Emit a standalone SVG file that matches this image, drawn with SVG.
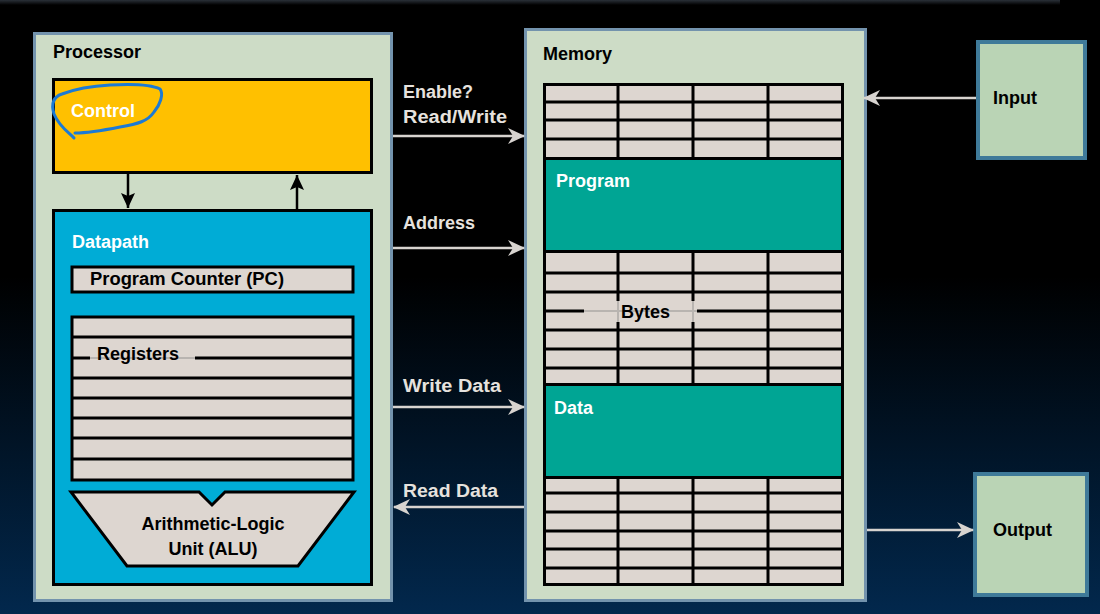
<svg xmlns="http://www.w3.org/2000/svg" width="1100" height="614" viewBox="0 0 1100 614">
<defs>
<linearGradient id="bg" x1="0" y1="0" x2="0" y2="1">
<stop offset="0" stop-color="#000000"/>
<stop offset="0.45" stop-color="#000000"/>
<stop offset="1" stop-color="#02284d"/>
</linearGradient>
<linearGradient id="topstrip" x1="0" y1="0" x2="0" y2="1">
<stop offset="0" stop-color="#2a3038"/>
<stop offset="1" stop-color="#000000"/>
</linearGradient>
<marker id="ah" markerUnits="userSpaceOnUse" markerWidth="18" markerHeight="16" refX="16" refY="8" orient="auto">
<path d="M0,0 L17,8 L0,16 L5,8 z" fill="#d8d4d0"/>
</marker>
<marker id="ahb" markerUnits="userSpaceOnUse" markerWidth="16" markerHeight="16" refX="15" refY="7" orient="auto">
<path d="M0,0 L15,7 L0,14 L3,7 z" fill="#000"/>
</marker>
<style>
.t{font-family:"Liberation Sans",Arial,sans-serif;font-weight:bold;font-size:18px}
.dk{fill:#000}
.wt{fill:#ffffff}
.lt{fill:#e6e2de}
.unit{fill:#cddcc6;stroke:#7393ad;stroke-width:3}
.io{fill:#bad4b5;stroke:#3f7a99;stroke-width:4}
.cell{fill:#ddd6d0}
.grid{stroke:#000;stroke-width:3;fill:none}
.conn{stroke:#d8d4d0;stroke-width:2.5;fill:none}
.connb{stroke:#000;stroke-width:2.5;fill:none}
</style>
</defs>
<rect x="0" y="0" width="1100" height="614" fill="url(#bg)"/>
<rect x="0" y="0" width="1060" height="5" fill="url(#topstrip)"/>

<g id="processor">
<rect class="unit" x="34.5" y="33.5" width="357" height="567"/>
<text class="t dk" x="53" y="58">Processor</text>
</g>

<g id="control">
<rect x="53.5" y="79.5" width="318" height="93" fill="#ffc000" stroke="#000" stroke-width="3"/>
<text class="t wt" x="71" y="117">Control</text>
<path d="M74,138 C70,133 60,128 54,114 C51,104 53,97 62,94 C75,89 92,86 110,85 C128,84 150,84 160,89 C164,94 160,105 154,112 C148,121 138,124 120,127 C105,130 90,133 75,133" fill="none" stroke="#1c7ad4" stroke-width="3" stroke-linecap="round"/>
</g>

<g id="datapath">
<rect x="53.5" y="210.5" width="318" height="374" fill="#00acd6" stroke="#000" stroke-width="3"/>
<text class="t wt" x="72" y="248">Datapath</text>
</g>

<g id="pc">
<rect x="72" y="267" width="281" height="25" fill="#ddd6d0" stroke="#000" stroke-width="3"/>
<text class="t dk" x="90" y="285" textLength="194" lengthAdjust="spacingAndGlyphs">Program Counter (PC)</text>
</g>

<g id="registers">
<rect x="72" y="317" width="281" height="163" fill="#ddd6d0" stroke="#000" stroke-width="3"/>
<g class="grid">
<line x1="72" y1="337" x2="353" y2="337"/>
<line x1="72" y1="358" x2="90" y2="358"/>
<line x1="195" y1="358" x2="353" y2="358"/>
<line x1="72" y1="378" x2="353" y2="378"/>
<line x1="72" y1="398" x2="353" y2="398"/>
<line x1="72" y1="418" x2="353" y2="418"/>
<line x1="72" y1="438" x2="353" y2="438"/>
<line x1="72" y1="459" x2="353" y2="459"/>
</g>
<line x1="90" y1="358" x2="195" y2="358" stroke="#b8b4b0" stroke-width="2"/>
<text class="t dk" x="97" y="360">Registers</text>
</g>

<g id="alu">
<path d="M71,492 L199,492 L212,505 L225,492 L354,492 L298,566 L127,566 Z" fill="#ddd6d0" stroke="#000" stroke-width="3" stroke-linejoin="miter"/>
<text class="t dk" x="213" y="530" text-anchor="middle">Arithmetic-Logic</text>
<text class="t dk" x="213" y="555" text-anchor="middle">Unit (ALU)</text>
</g>

<g id="memory">
<rect class="unit" x="525.5" y="29.5" width="340" height="571"/>
<text class="t dk" x="543" y="60">Memory</text>
</g>

<g id="bytes">
<rect class="cell" x="543" y="83" width="301" height="503"/>
<g class="grid">
<rect x="544.5" y="84.5" width="298" height="500"/>
<line x1="543" y1="102" x2="844" y2="102"/>
<line x1="543" y1="120" x2="844" y2="120"/>
<line x1="543" y1="139" x2="844" y2="139"/>
<line x1="618" y1="83" x2="618" y2="158"/>
<line x1="693" y1="83" x2="693" y2="158"/>
<line x1="768" y1="83" x2="768" y2="158"/>
<line x1="543" y1="273" x2="844" y2="273"/>
<line x1="543" y1="292" x2="844" y2="292"/>
<line x1="543" y1="311" x2="584" y2="311"/>
<line x1="697" y1="311" x2="844" y2="311"/>
<line x1="543" y1="330" x2="844" y2="330"/>
<line x1="543" y1="349" x2="844" y2="349"/>
<line x1="543" y1="368" x2="844" y2="368"/>
<line x1="618" y1="252" x2="618" y2="301"/>
<line x1="618" y1="322" x2="618" y2="384"/>
<line x1="693" y1="252" x2="693" y2="301"/>
<line x1="693" y1="322" x2="693" y2="384"/>
<line x1="768" y1="252" x2="768" y2="384"/>
<line x1="543" y1="493" x2="844" y2="493"/>
<line x1="543" y1="512" x2="844" y2="512"/>
<line x1="543" y1="531" x2="844" y2="531"/>
<line x1="543" y1="549" x2="844" y2="549"/>
<line x1="543" y1="568" x2="844" y2="568"/>
<line x1="618" y1="478" x2="618" y2="586"/>
<line x1="693" y1="478" x2="693" y2="586"/>
<line x1="768" y1="478" x2="768" y2="586"/>
</g>
<g stroke="#b8b4b0" stroke-width="2">
<line x1="584" y1="311" x2="697" y2="311"/>
<line x1="618" y1="301" x2="618" y2="322"/>
<line x1="693" y1="301" x2="693" y2="322"/>
</g>
<text class="t dk" x="621" y="318">Bytes</text>
</g>

<g id="program">
<rect x="544.5" y="158.5" width="298" height="93" fill="#00a594" stroke="#000" stroke-width="3"/>
<text class="t wt" x="556" y="187">Program</text>
</g>

<g id="data">
<rect x="544.5" y="384.5" width="298" height="93" fill="#00a594" stroke="#000" stroke-width="3"/>
<text class="t wt" x="554" y="414">Data</text>
</g>

<g id="input">
<rect class="io" x="978" y="42" width="107" height="116"/>
<text class="t dk" x="993" y="104">Input</text>
</g>

<g id="output">
<rect class="io" x="975" y="474" width="112" height="121"/>
<text class="t dk" x="993" y="536">Output</text>
</g>

<g id="connectors">
<line class="connb" x1="128" y1="174" x2="128" y2="208" marker-end="url(#ahb)"/>
<line class="connb" x1="297" y1="209" x2="297" y2="175" marker-end="url(#ahb)"/>
<line class="conn" x1="393" y1="136" x2="524" y2="136" marker-end="url(#ah)"/>
<line class="conn" x1="393" y1="248" x2="524" y2="248" marker-end="url(#ah)"/>
<line class="conn" x1="393" y1="407" x2="524" y2="407" marker-end="url(#ah)"/>
<line class="conn" x1="524" y1="507" x2="394" y2="507" marker-end="url(#ah)"/>
<line class="conn" x1="976" y1="98" x2="864" y2="98" marker-end="url(#ah)"/>
<line class="conn" x1="867" y1="530" x2="973" y2="530" marker-end="url(#ah)"/>
<text class="t lt" x="403" y="98">Enable?</text>
<text class="t lt" x="403" y="123" textLength="104" lengthAdjust="spacingAndGlyphs">Read/Write</text>
<text class="t lt" x="403" y="229">Address</text>
<text class="t lt" x="403" y="392" textLength="98" lengthAdjust="spacingAndGlyphs">Write Data</text>
<text class="t lt" x="403" y="497" textLength="95" lengthAdjust="spacingAndGlyphs">Read Data</text>
</g>
</svg>
